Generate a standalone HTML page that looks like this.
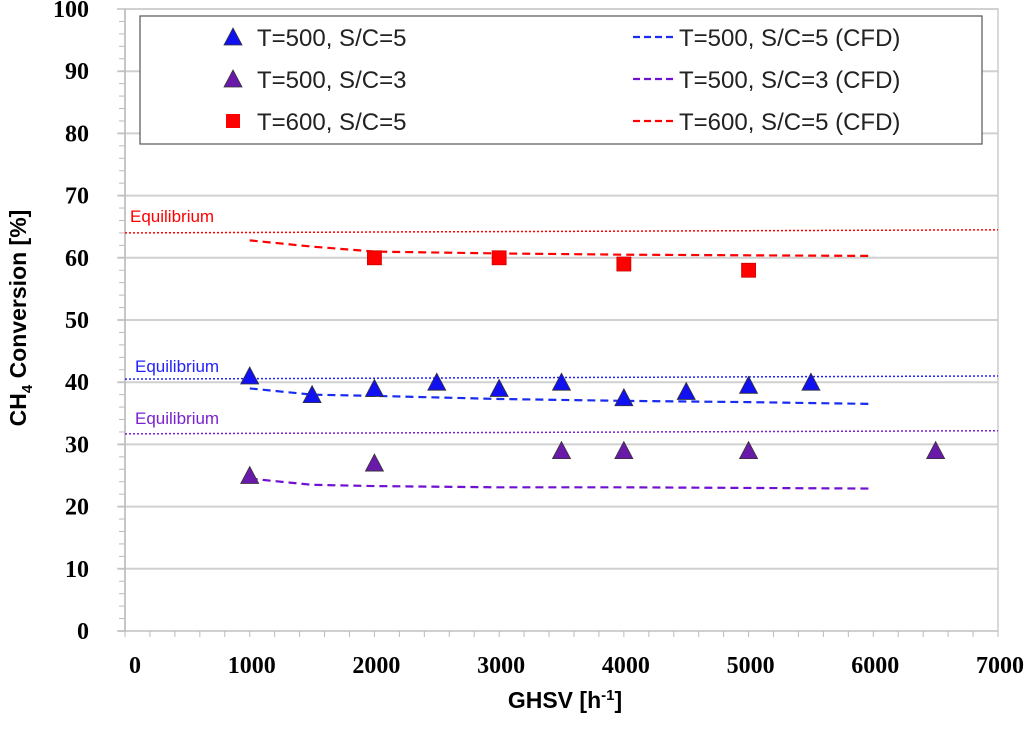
<!DOCTYPE html>
<html><head><meta charset="utf-8"><style>
body{margin:0;background:#fff}
svg{display:block}
.tk{font-family:"Liberation Serif",serif;font-weight:bold;font-size:24px;fill:#000}
.lg{font-family:"Liberation Sans",sans-serif;font-size:24px;fill:#222}
.ax{font-family:"Liberation Sans",sans-serif;font-weight:bold;font-size:23px;fill:#000}
.eq{font-family:"Liberation Sans",sans-serif;font-size:17px}
</style></head><body>
<svg id="chart" width="1024" height="730" xmlns="http://www.w3.org/2000/svg"></svg>
<script>
const xTicks=[0,1000,2000,3000,4000,5000,6000,7000];
const yTicks=[0,10,20,30,40,50,60,70,80,90,100];
const b5x=[1000,1500,2000,2500,3000,3500,4000,4500,5000,5500];
const b5y=[41,38,39,40,39,40,37.5,38.5,39.5,40];
const p3x=[1000,2000,3500,4000,5000,6500];
const p3y=[25,27,29,29,29,29];
const r6x=[2000,3000,4000,5000];
const r6y=[60,60,59,58];
const cfdX=[1000,1500,2000,3000,4000,5000,6000];
const cfdB=[39,38,37.8,37.3,37,36.8,36.5];
const cfdP=[24.5,23.5,23.3,23.1,23.1,23,22.9];
const cfdR=[62.8,61.8,61,60.7,60.5,60.4,60.3];
const eqX=[0,7000];
const eqR=[64,64.5];
const eqB=[40.5,41];
const eqP=[31.7,32.2];

const L=125,R=998,T=9,B=631;
const X=v=>L+(R-L)*v/7000, Y=v=>B-(B-T)*v/100;
const svg=document.getElementById('chart');
function add(tag,attrs,name,txt){const e=document.createElementNS('http://www.w3.org/2000/svg',tag);for(const k in attrs)e.setAttribute(k,attrs[k]);


if(txt!==undefined)e.textContent=txt;svg.appendChild(e);return e;}
add('rect',{x:L,y:T,width:R-L,height:B-T,fill:'none',stroke:'#ccc','stroke-width':1.5},'plot-border');
yTicks.forEach(v=>{add('line',{x1:L-8,x2:R,y1:Y(v),y2:Y(v),stroke:'#d0d0d0','stroke-width':2},'y-gridline');
add('text',{x:L-36,y:Y(v)+8,'text-anchor':'end',class:'tk'},'y-tick-label',v);});
for(let v=0;v<100;v+=2){add('line',{x1:L-6,x2:L,y1:Y(v),y2:Y(v),stroke:'#bbb'},'y-minor-tick');}
for(let v=0;v<=7000;v+=200){add('line',{x1:X(v),x2:X(v),y1:B,y2:B+6,stroke:'#bbb'},'x-minor-tick');}
xTicks.forEach(v=>add('text',{x:X(v)+(v===0?10:2),y:B+42,'text-anchor':'middle',class:'tk'},'x-tick-label',v));
add('line',{x1:L,x2:L,y1:T,y2:B,stroke:'#bbb','stroke-width':1.5},'y-axis');
function line(xs,ys,color,dash,name,w){add('polyline',{points:xs.map((x,i)=>X(x)+','+Y(ys[i])).join(' '),fill:'none',stroke:color,'stroke-width':w||2,'stroke-dasharray':dash},name);}
line(eqX,eqR,'#f00','2 2','equilibrium-line-red',1.5);
line(eqX,eqB,'#22f','2 2','equilibrium-line-blue',1.5);
line(eqX,eqP,'#7a22d0','2 2','equilibrium-line-purple',1.5);
add('text',{x:130,y:222,fill:'#f00',class:'eq'},'equilibrium-label-red','Equilibrium');
add('text',{x:135,y:372,fill:'#22f',class:'eq'},'equilibrium-label-blue','Equilibrium');
add('text',{x:135,y:424,fill:'#7a22d0',class:'eq'},'equilibrium-label-purple','Equilibrium');
line(cfdX,cfdR,'#f00','8 5','cfd-line-t600-sc5',2.2);
line(cfdX,cfdB,'#1a2cf0','8 5','cfd-line-t500-sc5',2.2);
line(cfdX,cfdP,'#7010d0','8 5','cfd-line-t500-sc3',2.2);
function tri(cx,cy,c,name){add('polygon',{points:`${cx},${cy-9} ${cx-9},${cy+8} ${cx+9},${cy+8}`,fill:c,stroke:'#333','stroke-width':0.8},name);}
b5x.forEach((x,i)=>tri(X(x),Y(b5y[i]),'#1010f0','point-t500-sc5'));
p3x.forEach((x,i)=>tri(X(x),Y(p3y[i]),'#6a1aa8','point-t500-sc3'));
r6x.forEach((x,i)=>add('rect',{x:X(x)-7,y:Y(r6y[i])-7,width:14,height:14,fill:'#f00',stroke:'#c00','stroke-width':0.8},'point-t600-sc5'));
add('rect',{x:140,y:16,width:842,height:128,fill:'#fff',stroke:'#555','stroke-width':1.2},'legend-box');
const lr=[37,79,121];
tri(233,lr[0],'#1010f0','legend-marker-t500-sc5');
tri(233,lr[1],'#6a1aa8','legend-marker-t500-sc3');
add('rect',{x:226,y:lr[2]-7,width:14,height:14,fill:'#f00'},'legend-marker-t600-sc5');
['T=500, S/C=5','T=500, S/C=3','T=600, S/C=5'].forEach((t,i)=>add('text',{x:257,y:lr[i]+9,class:'lg'},'legend-label',t));
['#1a2cf0','#7010d0','#f00'].forEach((c,i)=>add('line',{x1:633,x2:677,y1:lr[i],y2:lr[i],stroke:c,'stroke-width':2.2,'stroke-dasharray':'7 4'},'legend-line'));
['T=500, S/C=5 (CFD)','T=500, S/C=3 (CFD)','T=600, S/C=5 (CFD)'].forEach((t,i)=>add('text',{x:679,y:lr[i]+9,class:'lg'},'legend-label',t));
const xt=add('text',{x:565,y:708,'text-anchor':'middle',class:'ax'},'x-axis-title');
xt.innerHTML='GHSV [h<tspan dy="-8" font-size="15">-1</tspan><tspan dy="8">]</tspan>';
const yt=add('text',{x:0,y:0,'text-anchor':'middle',class:'ax',transform:'translate(26,318) rotate(-90)'},'y-axis-title');
yt.innerHTML='CH<tspan dy="6" font-size="15">4</tspan><tspan dy="-6"> Conversion [%]</tspan>';
</script>
</body></html>
